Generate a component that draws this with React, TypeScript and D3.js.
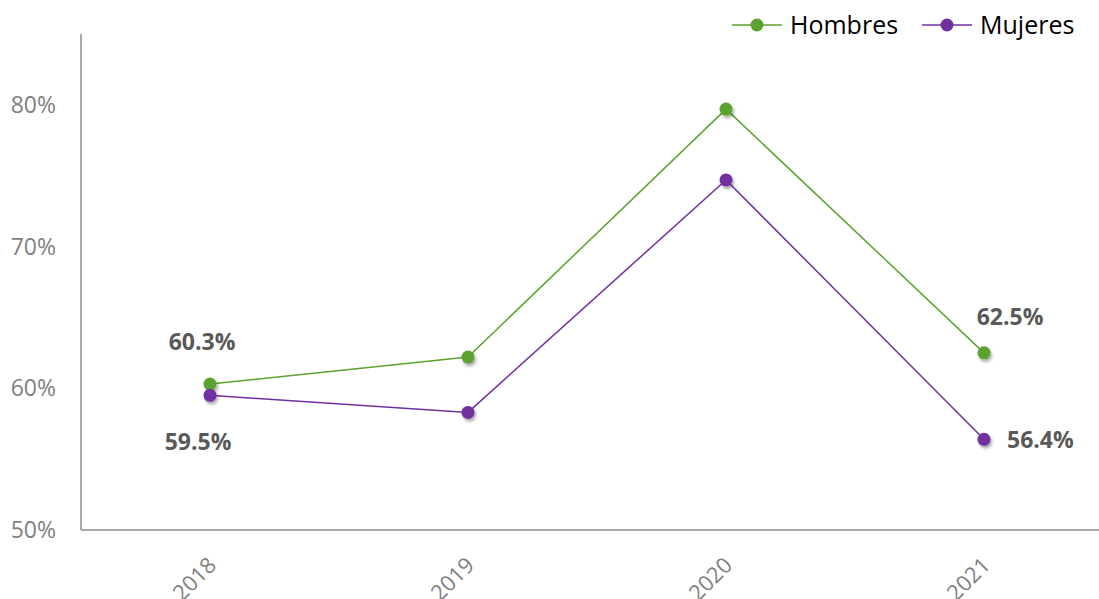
import React from "react";
import * as d3 from "d3";

const years = ["2018", "2019", "2020", "2021"];
const hombres = [60.3, 62.2, 79.7, 62.5];
const mujeres = [59.5, 58.3, 74.7, 56.4];
const yTicks = [50, 60, 70, 80];
const seriesNames = ["Hombres", "Mujeres"];
const seriesColors = ["#5BA22E", "#7030A0"];

const W = 1099;
const H = 599;
const left = 81;
const bottom = 530;
const top = 34;

export default function App() {
  const x = d3.scaleBand<string>().domain(years).range([left, left + 258 * 4]);
  const y = d3.scaleLinear().domain([50, 85]).range([bottom, top]);
  const cx = (yr: string) => (x(yr) as number) + x.bandwidth() / 2;
  const line = d3
    .line<number>()
    .x((_, i) => cx(years[i]))
    .y((v) => y(v));

  const series = [hombres, mujeres];
  const font = "'Open Sans', 'Noto Sans', sans-serif";

  // data labels: first and last point of each series
  const labels = [
    { v: hombres[0], x: cx(years[0]) - 8, y: y(hombres[0]) - 34, anchor: "middle" },
    { v: mujeres[0], x: cx(years[0]) - 12, y: y(mujeres[0]) + 55, anchor: "middle" },
    { v: hombres[3], x: cx(years[3]) + 26, y: y(hombres[3]) - 28, anchor: "middle" },
    { v: mujeres[3], x: cx(years[3]) + 23, y: y(mujeres[3]) + 9, anchor: "start" },
  ];

  return (
    <svg
      width={W}
      height={H}
      style={{ position: "absolute", left: 0, top: 0, background: "#fff" }}
    >
      <defs>
        <filter id="shadow" x="-100%" y="-100%" width="300%" height="300%">
          <feDropShadow dx="1.5" dy="2.5" stdDeviation="1.8" floodColor="#000" floodOpacity="0.35" />
        </filter>
      </defs>

      {/* axes */}
      <line x1={left} x2={left} y1={top} y2={bottom} stroke="#8c8c8c" strokeWidth={1.5} />
      <line x1={left} x2={W} y1={bottom} y2={bottom} stroke="#8c8c8c" strokeWidth={1.5} />

      {yTicks.map((t) => (
        <text
          key={t}
          x={56}
          y={y(t)}
          dy="0.35em"
          textAnchor="end"
          fontFamily={font}
          fontSize={23}
          fill="#7f7f7f"
        >
          {t}%
        </text>
      ))}

      {years.map((yr) => (
        <text
          key={yr}
          transform={`translate(${cx(yr) - 4},${555}) rotate(-45)`}
          textAnchor="end"
          dy="0.75em"
          fontFamily={font}
          fontSize={22}
          fill="#7f7f7f"
        >
          {yr}
        </text>
      ))}

      {series.map((s, si) => (
        <g key={si}>
          <path d={line(s) as string} fill="none" stroke={seriesColors[si]} strokeWidth={1.5} />
          {s.map((v, i) => (
            <circle
              key={i}
              cx={cx(years[i])}
              cy={y(v)}
              r={6.5}
              fill={seriesColors[si]}
              filter="url(#shadow)"
            />
          ))}
        </g>
      ))}

      {labels.map((l, i) => (
        <text
          key={i}
          x={l.x}
          y={l.y}
          textAnchor={l.anchor}
          fontFamily={font}
          fontWeight="bold"
          fontSize={23}
          fill="#595959"
        >
          {l.v.toFixed(1)}%
        </text>
      ))}

      {/* legend */}
      {seriesNames.map((n, i) => {
        const lx = i === 0 ? 732 : 922;
        return (
          <g key={n}>
            <line x1={lx} x2={lx + 50} y1={25} y2={25} stroke={seriesColors[i]} strokeWidth={1.5} />
            <circle cx={lx + 25} cy={25} r={6.5} fill={seriesColors[i]} />
            <text
              x={lx + 58}
              y={25}
              dy="0.35em"
              fontFamily={font}
              fontSize={25}
              fill="#000"
            >
              {n}
            </text>
          </g>
        );
      })}
    </svg>
  );
}
